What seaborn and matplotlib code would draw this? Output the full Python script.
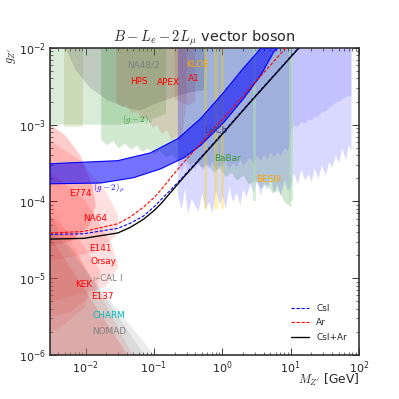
import numpy as np
import matplotlib
matplotlib.use("Agg")
import matplotlib.pyplot as plt
import seaborn as sns

# projected sensitivity curves (mass in GeV, coupling g_Z')
mass = [0.003, 0.0093, 0.0295, 0.045, 0.0708, 0.1, 0.126, 0.18, 0.272, 0.857, 2.61, 13.2, 30.0]
g_csi = [3.72e-5, 3.80e-5, 4.47e-5, 5.2e-5, 6.5e-5, 8.5e-5, 1.05e-4, 1.45e-4, 2.14e-4, 6.61e-4, 2.04e-3, 1.02e-2, 2.3e-2]
g_ar = [3.89e-5, 4.07e-5, 5.13e-5, 6.3e-5, 8.5e-5, 1.12e-4, 1.41e-4, 2.1e-4, 3.24e-4, 1.0e-3, 3.09e-3, 1.55e-2, 3.5e-2]
g_comb = [3.24e-5, 3.31e-5, 3.89e-5, 4.6e-5, 5.9e-5, 7.6e-5, 9.33e-5, 1.35e-4, 2.07e-4, 6.46e-4, 2.0e-3, 1.0e-2, 2.27e-2]

# (g-2)_mu favoured band
gm2_up_m = [0.003, 0.0295, 0.089, 0.224, 0.48, 1.05, 2.05, 3.3, 3.65, 5.0]
gm2_up_g = [3.1e-4, 3.4e-4, 4.3e-4, 6.6e-4, 1.2e-3, 2.65e-3, 5.5e-3, 8.9e-3, 1.0e-2, 1.4e-2]
gm2_lo_m = [0.003, 0.0166, 0.050, 0.125, 0.272, 0.483, 1.05, 2.05, 3.65, 5.66, 6.47, 9.0]
gm2_lo_g = [1.7e-4, 1.74e-4, 2.04e-4, 2.66e-4, 3.7e-4, 5.4e-4, 1.07e-3, 2.2e-3, 4.4e-3, 8.9e-3, 1.0e-2, 1.4e-2]

# (g-2)_e and unlabeled olive region
g2e_m = [0.003, 0.003, 0.01, 0.03, 0.06, 0.1, 0.15, 0.15]
g2e_g = [1e-2, 1.0e-3, 1.0e-3, 1.0e-3, 1.05e-3, 1.2e-3, 1.4e-3, 1e-2]
yel_m = [0.0048, 0.0048, 0.0093, 0.0093]
yel_g = [1e-2, 9.3e-4, 9.3e-4, 1e-2]

# NA48/2
na48_m = [0.00509, 0.00714, 0.0118, 0.0210, 0.0412, 0.0638, 0.0991, 0.194, 0.344, 0.535, 0.571]
na48_g = [1e-2, 5.14e-3, 2.99e-3, 2.08e-3, 1.63e-3, 1.53e-3, 1.84e-3, 2.28e-3, 2.65e-3, 2.81e-3, 1e-2]

# HPS / APEX / A1
apex_m = [0.028, 0.033, 0.04, 0.048, 0.057, 0.068, 0.08, 0.095, 0.11, 0.13, 0.155, 0.18, 0.21, 0.25, 0.3]
apex_g = [2.0e-3, 1.7e-3, 1.8e-3, 1.4e-3, 1.5e-3, 1.15e-3, 1.25e-3, 9e-4, 1.0e-3, 7.5e-4, 8.5e-4, 6.2e-4, 7.0e-4, 6.0e-4, 2.0e-3]
a1_m = [0.2, 0.2, 0.26, 0.33, 0.4, 0.4]
a1_g = [1e-2, 2.2e-3, 1.9e-3, 1.8e-3, 2.0e-3, 1e-2]

# BaBar
babar_m = [0.0166, 0.02, 0.025, 0.03, 0.037, 0.045, 0.055, 0.067, 0.08, 0.1, 0.12, 0.15, 0.18, 0.22, 0.27, 0.33,
           0.4, 0.5, 0.6, 0.75, 0.9, 1.1, 1.35, 1.6, 2.0, 2.4, 3.0, 3.6, 4.4, 5.4, 6.5, 8.0, 10.0]
babar_g = [6.5e-4, 5.5e-4, 6.2e-4, 5.0e-4, 5.8e-4, 4.8e-4, 5.4e-4, 4.5e-4, 5.0e-4, 4.2e-4, 4.6e-4, 3.8e-4, 4.2e-4,
           3.4e-4, 3.8e-4, 3.0e-4, 3.4e-4, 2.8e-4, 3.1e-4, 2.4e-4, 2.8e-4, 2.1e-4, 2.4e-4, 1.9e-4, 2.2e-4, 1.7e-4,
           1.9e-4, 1.5e-4, 1.7e-4, 1.3e-4, 1.4e-4, 1.0e-4, 8.5e-5]

# LHCb
lhcb_m = [0.22, 0.25, 0.28, 0.31, 0.35, 0.39, 0.44, 0.5, 0.56, 0.63, 0.7, 0.8, 0.9, 1.0, 1.1, 1.25, 1.4, 1.6, 1.8,
          2.0, 2.2, 2.5, 2.8, 3.2, 3.6, 4.0, 4.5, 5.0, 5.6, 6.3, 7.0, 8.0, 9.0, 10, 11, 12.5, 14, 16, 18, 20, 22,
          25, 28, 32, 36, 40, 45, 50, 56, 63, 70, 76]
lhcb_g = [1.2e-4, 8e-5, 1.5e-4, 7e-5, 1.1e-4, 9e-5, 7.5e-5, 1.3e-4, 8e-5, 1.0e-4, 7e-5, 1.4e-4, 9e-5, 1.2e-4, 8e-5,
          1.6e-4, 1.0e-4, 1.3e-4, 9e-5, 1.5e-4, 1.1e-4, 1.7e-4,
          1.3e-4, 1.9e-4, 1.2e-4, 1.8e-4, 1.4e-4, 2.1e-4, 1.3e-4, 1.7e-4, 1.2e-4, 1.9e-4, 1.4e-4,
          1.6e-4, 2.4e-4, 1.7e-4, 2.6e-4, 1.9e-4, 2.3e-4, 1.8e-4, 2.7e-4, 2.0e-4, 3.0e-4, 2.2e-4, 3.3e-4,
          2.8e-4, 4.0e-4, 3.2e-4, 5.0e-4, 3.5e-4, 5.5e-4, 4.5e-4]
lhcb_env = [3.0e-4, 2.5e-4, 3.2e-4, 2.4e-4, 2.9e-4, 2.6e-4, 3.3e-4, 2.5e-4, 3.0e-4, 2.7e-4, 3.4e-4, 2.6e-4, 3.1e-4,
            2.8e-4, 3.5e-4, 2.7e-4, 3.2e-4, 2.9e-4, 3.6e-4, 3.0e-4, 3.3e-4, 3.8e-4,
            3.2e-4, 4.0e-4, 3.4e-4, 4.2e-4, 3.6e-4, 4.5e-4, 3.8e-4, 4.4e-4, 4.0e-4, 5.0e-4, 4.6e-4,
            9e-4, 1.0e-3, 9.5e-4, 1.1e-3, 1.05e-3, 1.2e-3, 1.15e-3, 1.3e-3, 1.3e-3, 1.5e-3, 1.5e-3, 1.7e-3,
            1.8e-3, 2.0e-3, 2.0e-3, 2.2e-3, 2.3e-3, 2.4e-3, 2.4e-3]

# narrow vertical windows
gold_bands = [(0.535, 0.592), (0.748, 0.857), (0.948, 1.047)]
green_bands = [(2.79, 3.08), (9.38, 10.7)]

# beam dumps
e774_m = [0.003, 0.00509, 0.00845, 0.0126, 0.0140, 0.0111, 0.00603, 0.003]
e774_g = [1.01e-3, 7.21e-4, 3.94e-4, 1.59e-4, 8.71e-5, 4.75e-5, 3.02e-5, 2.60e-5]
na64_m = [0.003, 0.00845, 0.0196, 0.0304, 0.0275, 0.0140, 0.003]
na64_g = [6.21e-4, 3.39e-4, 1.37e-4, 6.43e-5, 3.52e-5, 2.23e-5, 1.65e-5]
e141_m = [0.003, 0.01, 0.0232, 0.0304, 0.0196, 0.003]
e141_g = [2.51e-4, 1.01e-4, 3.02e-5, 1.42e-5, 7.76e-6, 4.93e-6]
orsay_m = [0.003, 0.00845, 0.0166, 0.0140, 0.00603, 0.003]
orsay_g = [6.43e-5, 3.02e-5, 1.22e-5, 6.67e-6, 3.65e-6, 3.13e-6]
kek_m = [0.003, 0.00714, 0.0118, 0.01, 0.00431, 0.003]
kek_g = [4.09e-5, 2.23e-5, 9.89e-6, 4.24e-6, 2.32e-6, 1.99e-6]
e137_m = [0.003, 0.0427, 0.003]
e137_g = [3.52e-5, 9.5e-7, 9.5e-7]
nucal_m = [0.003, 0.0505, 0.003]
nucal_g = [1.01e-4, 9.5e-7, 9.5e-7]
charm_m = [0.003, 0.0755, 0.003]
charm_g = [6.43e-5, 9.5e-7, 9.5e-7]
nomad_m = [0.003, 0.106, 0.003]
nomad_g = [4.75e-5, 9.5e-7, 9.5e-7]

labels = [
    ("NA48/2", 0.071, 6.0e-3, "gray"), ("HPS", 0.0597, 3.6e-3, "red"), ("APEX", 0.164, 3.5e-3, "red"),
    ("KLOE", 0.44, 6.0e-3, "orange"), ("A1", 0.38, 4.05e-3, "red"), ("$(g-2)_e$", 0.0575, 1.17e-3, "#3a9a3a"),
    ("LHCb", 0.80, 8.4e-4, "#3a3a9a"), ("BaBar", 1.2, 3.6e-4, "#3a9a3a"), ("BESIII", 4.8, 1.95e-4, "orange"),
    (r"$(g-2)_\mu$", 0.0218, 1.5e-4, "blue"), ("E774", 0.00845, 1.29e-4, "red"), ("NA64", 0.014, 6.05e-5, "red"),
    ("E141", 0.0166, 2.45e-5, "red"), ("Orsay", 0.0184, 1.66e-5, "red"), (r"$\nu$-CAL I", 0.021, 1.03e-5, "gray"),
    ("KEK", 0.0093, 8.3e-6, "red"), ("E137", 0.0178, 5.75e-6, "red"), ("CHARM", 0.0218, 3.3e-6, "c"),
    ("NOMAD", 0.0218, 2.0e-6, "gray"),
]

sns.set_style("ticks")
plt.rcParams.update({
    "font.family": ["DejaVu Sans"],
    "mathtext.fontset": "cm",
    "xtick.direction": "in", "ytick.direction": "in",
    "xtick.top": True, "ytick.right": True,
    "axes.edgecolor": "#333333", "axes.linewidth": 1.5,
    "xtick.major.size": 6, "ytick.major.size": 6,
    "xtick.minor.size": 3, "ytick.minor.size": 3,
    "xtick.labelsize": 10, "ytick.labelsize": 10,
})

fig, ax = plt.subplots(figsize=(4.9875, 4.9875), dpi=80)
ax.set_xscale("log")
ax.set_yscale("log")

# shaded exclusions
ax.fill(g2e_m, g2e_g, color="green", alpha=0.15, lw=0)
ax.fill(yel_m, yel_g, color="olive", alpha=0.15, lw=0)
ax.fill(na48_m, na48_g, color="gray", alpha=0.3, lw=0)
ax.fill(apex_m + [0.3, 0.028], apex_g + [1e-2, 1e-2], color="red", alpha=0.12, lw=0)
ax.fill(a1_m, a1_g, color="red", alpha=0.12, lw=0)
ax.fill_between(babar_m, babar_g, 1e-2, color="green", alpha=0.18, lw=0)
ax.fill_between(lhcb_m, lhcb_g, 1e-2, color="blue", alpha=0.15, lw=0)
ax.fill_between(lhcb_m, lhcb_env, 1e-2, color="blue", alpha=0.1, lw=0)
for lo, hi in gold_bands:
    ax.fill_between([lo, hi], 7.9e-5, 1e-2, color="gold", alpha=0.3, lw=0)
for lo, hi in green_bands:
    ax.fill_between([lo, hi], 1e-4, 1e-2, color="#b0e0b0", alpha=0.5, lw=0)

for m, g, c, a in [(e774_m, e774_g, "red", 0.2), (na64_m, na64_g, "red", 0.12), (e141_m, e141_g, "red", 0.12),
                   (orsay_m, orsay_g, "red", 0.12), (kek_m, kek_g, "red", 0.12), (e137_m, e137_g, "red", 0.2),
                   (nucal_m, nucal_g, "salmon", 0.2), (charm_m, charm_g, "gray", 0.15),
                   (nomad_m, nomad_g, "gray", 0.15)]:
    ax.fill(m, g, color=c, alpha=a, lw=0)

# (g-2)_mu band
ax.fill(gm2_up_m + gm2_lo_m[::-1], gm2_up_g + gm2_lo_g[::-1], color="blue", alpha=0.55, lw=0, zorder=3)
ax.plot(gm2_up_m, gm2_up_g, color="blue", lw=1, zorder=3)
ax.plot(gm2_lo_m, gm2_lo_g, color="blue", lw=1, zorder=3)

# projections
ax.plot(mass, g_csi, color="blue", ls="--", dashes=(3, 1.5), lw=1, label="CsI", zorder=4)
ax.plot(mass, g_ar, color="red", ls="--", dashes=(3, 1.5), lw=1, label="Ar", zorder=4)
ax.plot(mass, g_comb, color="black", lw=1.2, label="CsI+Ar", zorder=4)

for txt, x, y, c in labels:
    ax.text(x, y, txt, color=c, fontsize=8, ha="center", va="center", zorder=5)

ax.set_xlim(3e-3, 100)
ax.set_ylim(1e-6, 1e-2)
ax.set_title(r"$B-L_e-2L_\mu$ vector boson", fontsize=13)
ax.set_xlabel(r"$M_{Z'}$ [GeV]", loc="right", fontsize=11, labelpad=-3)
ax.set_ylabel(r"$g_{Z'}$", loc="top", fontsize=11, labelpad=1)
ax.legend(loc="lower right", bbox_to_anchor=(0.987, 0.016), frameon=False, fontsize=8, labelspacing=0.65)

fig.savefig("out.png", dpi=80)
